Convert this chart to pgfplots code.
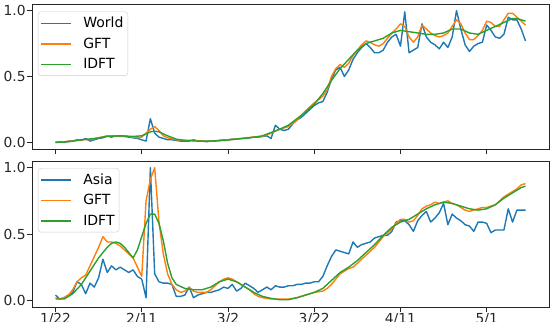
\documentclass[border=0pt]{standalone}
\usepackage{fontspec}
\setmainfont{DejaVu Sans}
\usepackage{pgfplots}
\pgfplotsset{compat=1.18}
\definecolor{tabblue}{HTML}{1F77B4}
\definecolor{taborange}{HTML}{FF7F0E}
\definecolor{tabgreen}{HTML}{2CA02C}
\definecolor{legframe}{HTML}{CCCCCC}
\pgfplotsset{
  panel/.style={
    scale only axis, width=517pt,
    xmin=-5.45, xmax=114.45, ymin=-0.05, ymax=1.05,
    axis line style={black!85, line width=0.9pt},
    tick pos=left, tick align=outside,
    major tick length=5pt,
    every tick/.style={black!85, line width=0.9pt},
    xtick={0,20,40,60,80,100},
    ytick={0,0.5,1},
    /pgf/number format/assume math mode=true,
    yticklabel={\pgfmathprintnumber[fixed,fixed zerofill,precision=1]{\tick}},
    tick label style={font=\fontsize{13.8}{16}\selectfont, black!85},
    yticklabel style={inner xsep=1.2pt},
    xticklabel style={inner ysep=1.5pt},
    legend cell align=left,
    legend image code/.code={\draw[##1, line width=1.6pt] (0pt,0pt) -- (30pt,0pt);},
    legend style={anchor=north west,
      draw=legframe, rounded corners=3pt, fill=white,
      font=\fontsize{14}{16}\selectfont, inner xsep=2.5pt, inner ysep=3.5pt, row sep=4.6pt,
      /tikz/every odd column/.append style={column sep=9pt}},
  }
}
\pgfplotstableread{
x y
0 0.00
1 0.005
2 0.00
3 0.01
4 0.01
5 0.02
6 0.015
7 0.03
8 0.01
9 0.02
10 0.03
11 0.035
12 0.05
13 0.04
14 0.05
15 0.045
16 0.045
17 0.04
18 0.035
19 0.03
20 0.02
21 0.01
22 0.18
23 0.07
24 0.04
25 0.03
26 0.02
27 0.02
28 0.015
29 0.01
30 0.01
31 0.01
32 0.02
33 0.01
34 0.01
35 0.005
36 0.01
37 0.01
38 0.015
39 0.02
40 0.02
41 0.025
42 0.025
43 0.03
44 0.03
45 0.035
46 0.04
47 0.04
48 0.045
49 0.05
50 0.03
51 0.13
52 0.10
53 0.09
54 0.10
55 0.14
56 0.17
57 0.19
58 0.22
59 0.25
60 0.28
61 0.30
62 0.31
63 0.38
64 0.48
65 0.55
66 0.57
67 0.50
68 0.55
69 0.63
70 0.68
71 0.72
72 0.75
73 0.72
74 0.68
75 0.68
76 0.70
77 0.76
78 0.80
79 0.82
80 0.73
81 0.99
82 0.68
83 0.70
84 0.72
85 0.90
86 0.80
87 0.76
88 0.74
89 0.71
90 0.76
91 0.72
92 0.80
93 1.00
94 0.86
95 0.74
96 0.69
97 0.73
98 0.75
99 0.76
100 0.89
101 0.85
102 0.80
103 0.79
104 0.82
105 0.95
106 0.93
107 0.93
108 0.86
109 0.77
}\worldtab
\pgfplotstableread{
x y
0 0.00
2 0.005
4 0.01
6 0.02
8 0.02
10 0.035
12 0.05
14 0.05
16 0.05
18 0.04
19 0.035
20 0.04
21 0.07
22 0.10
23 0.12
24 0.09
25 0.05
26 0.035
28 0.02
30 0.015
32 0.015
34 0.01
36 0.01
38 0.015
40 0.02
42 0.025
44 0.035
46 0.04
48 0.045
50 0.07
52 0.10
54 0.12
56 0.17
58 0.24
60 0.30
62 0.35
63 0.40
64 0.50
65 0.56
66 0.59
67 0.57
68 0.60
69 0.66
70 0.70
71 0.74
72 0.77
73 0.76
74 0.74
75 0.73
76 0.75
77 0.79
78 0.83
79 0.86
80 0.90
81 0.88
82 0.80
83 0.76
84 0.80
85 0.89
86 0.86
87 0.83
88 0.81
89 0.80
90 0.81
91 0.83
92 0.88
93 0.93
94 0.90
95 0.83
96 0.78
97 0.78
98 0.81
99 0.85
100 0.92
101 0.91
102 0.88
103 0.88
104 0.93
105 0.98
106 0.98
107 0.95
108 0.92
109 0.89
}\worldgft
\pgfplotstableread{
x y
0 0.00
3 0.005
6 0.02
9 0.03
12 0.045
15 0.05
18 0.045
20 0.05
22 0.08
23 0.085
24 0.08
26 0.05
28 0.025
30 0.015
33 0.01
36 0.01
39 0.015
42 0.025
45 0.035
48 0.05
50 0.075
52 0.10
54 0.13
56 0.18
58 0.23
60 0.29
62 0.37
64 0.47
66 0.56
68 0.63
70 0.70
72 0.75
74 0.77
76 0.79
78 0.83
80 0.85
82 0.84
84 0.83
86 0.82
88 0.82
90 0.83
92 0.86
94 0.86
96 0.83
98 0.82
100 0.85
102 0.88
104 0.91
106 0.94
107 0.94
108 0.93
109 0.92
}\worldidft
\pgfplotstableread{
x y
0 0.04
1 0.01
2 0.02
3 0.04
4 0.06
5 0.14
6 0.12
7 0.05
8 0.13
9 0.10
10 0.17
11 0.31
12 0.21
13 0.26
14 0.23
15 0.25
16 0.23
17 0.21
18 0.23
19 0.18
20 0.16
21 0.02
22 1.00
23 0.20
24 0.14
25 0.13
26 0.13
27 0.12
28 0.03
29 0.03
30 0.04
31 0.10
32 0.02
33 0.04
34 0.05
35 0.06
36 0.06
37 0.07
38 0.08
39 0.10
40 0.09
41 0.12
42 0.07
43 0.09
44 0.13
45 0.11
46 0.09
47 0.06
48 0.08
49 0.10
50 0.08
51 0.11
52 0.10
53 0.10
54 0.11
55 0.11
56 0.12
57 0.12
58 0.13
59 0.13
60 0.14
61 0.14
62 0.18
63 0.26
64 0.33
65 0.38
66 0.37
67 0.36
68 0.35
69 0.44
70 0.40
71 0.42
72 0.43
73 0.44
74 0.47
75 0.48
76 0.49
77 0.49
78 0.52
79 0.59
80 0.60
81 0.60
82 0.57
83 0.52
84 0.60
85 0.64
86 0.67
87 0.59
88 0.62
89 0.66
90 0.73
91 0.57
92 0.65
93 0.62
94 0.60
95 0.57
96 0.56
97 0.52
98 0.59
99 0.59
100 0.58
101 0.51
102 0.53
103 0.53
104 0.53
105 0.69
106 0.59
107 0.68
108 0.68
109 0.68
}\asiatab
\pgfplotstableread{
x y
0 0.02
1 0.01
2 0.02
3 0.04
4 0.08
5 0.14
6 0.17
7 0.19
8 0.26
9 0.33
10 0.40
11 0.48
12 0.44
13 0.44
14 0.43
15 0.41
16 0.38
17 0.35
18 0.32
19 0.25
20 0.18
21 0.75
22 0.91
23 1.00
24 0.59
25 0.35
26 0.20
27 0.12
28 0.08
29 0.06
30 0.07
31 0.10
32 0.07
33 0.06
34 0.06
35 0.06
36 0.08
37 0.11
38 0.14
39 0.16
40 0.17
41 0.16
42 0.14
43 0.12
44 0.10
45 0.08
46 0.05
47 0.03
48 0.02
49 0.015
50 0.01
52 0.01
54 0.01
56 0.02
58 0.04
60 0.06
62 0.07
63 0.09
64 0.12
65 0.16
66 0.20
67 0.22
68 0.24
69 0.25
70 0.28
72 0.34
74 0.40
76 0.48
78 0.54
79 0.58
80 0.61
81 0.61
82 0.59
83 0.60
84 0.64
85 0.69
86 0.71
87 0.72
88 0.74
89 0.73
90 0.74
91 0.75
92 0.73
93 0.72
94 0.70
95 0.68
96 0.67
97 0.68
98 0.69
99 0.70
100 0.70
101 0.71
102 0.72
103 0.75
104 0.78
105 0.80
106 0.82
107 0.84
108 0.87
109 0.88
}\asiagft
\pgfplotstableread{
x y
0 0.01
2 0.01
4 0.05
6 0.12
8 0.22
10 0.32
12 0.40
13 0.43
14 0.44
15 0.43
16 0.40
17 0.36
18 0.32
19 0.38
20 0.48
21 0.58
22 0.65
23 0.65
24 0.58
25 0.45
26 0.28
27 0.17
28 0.12
30 0.09
32 0.08
34 0.08
36 0.10
38 0.14
40 0.16
42 0.14
44 0.10
46 0.06
48 0.03
50 0.015
52 0.005
54 0.005
56 0.02
58 0.04
60 0.06
62 0.09
64 0.15
66 0.21
68 0.25
70 0.30
72 0.36
74 0.42
76 0.49
78 0.55
80 0.59
82 0.61
84 0.65
86 0.69
88 0.72
90 0.74
92 0.73
94 0.71
96 0.69
98 0.68
100 0.69
102 0.72
104 0.77
106 0.81
108 0.85
109 0.86
}\asiaidft
\begin{document}
\begin{tikzpicture}
\begin{axis}[panel, name=top, height=145pt, at={(0pt,158pt)}, anchor=south west, xticklabels={},
  legend style={at={(axis description cs:0.0116,0.948)}}]
\addplot[tabblue, line width=1.4pt, line join=round] table[x=x,y=y] {\worldtab};
\addlegendentry{World}
\addplot[taborange, line width=1.4pt, line join=round] table[x=x,y=y] {\worldgft};
\addlegendentry{GFT}
\addplot[tabgreen, line width=1.4pt, line join=round] table[x=x,y=y] {\worldidft};
\addlegendentry{IDFT}
\end{axis}
\begin{axis}[panel, name=bot, height=146pt, at={(0pt,0pt)}, anchor=south west,
  xticklabels={1/22,2/11,3/2,3/22,4/11,5/1},
  legend style={at={(axis description cs:0.0116,0.952)}}]
\addplot[tabblue, line width=1.4pt, line join=round] table[x=x,y=y] {\asiatab};
\addlegendentry{Asia}
\addplot[taborange, line width=1.4pt, line join=round] table[x=x,y=y] {\asiagft};
\addlegendentry{GFT}
\addplot[tabgreen, line width=1.4pt, line join=round] table[x=x,y=y] {\asiaidft};
\addlegendentry{IDFT}
\end{axis}
\pgfresetboundingbox
\useasboundingbox (-32pt,-14pt) rectangle (521pt,307pt);
\end{tikzpicture}
\end{document}
